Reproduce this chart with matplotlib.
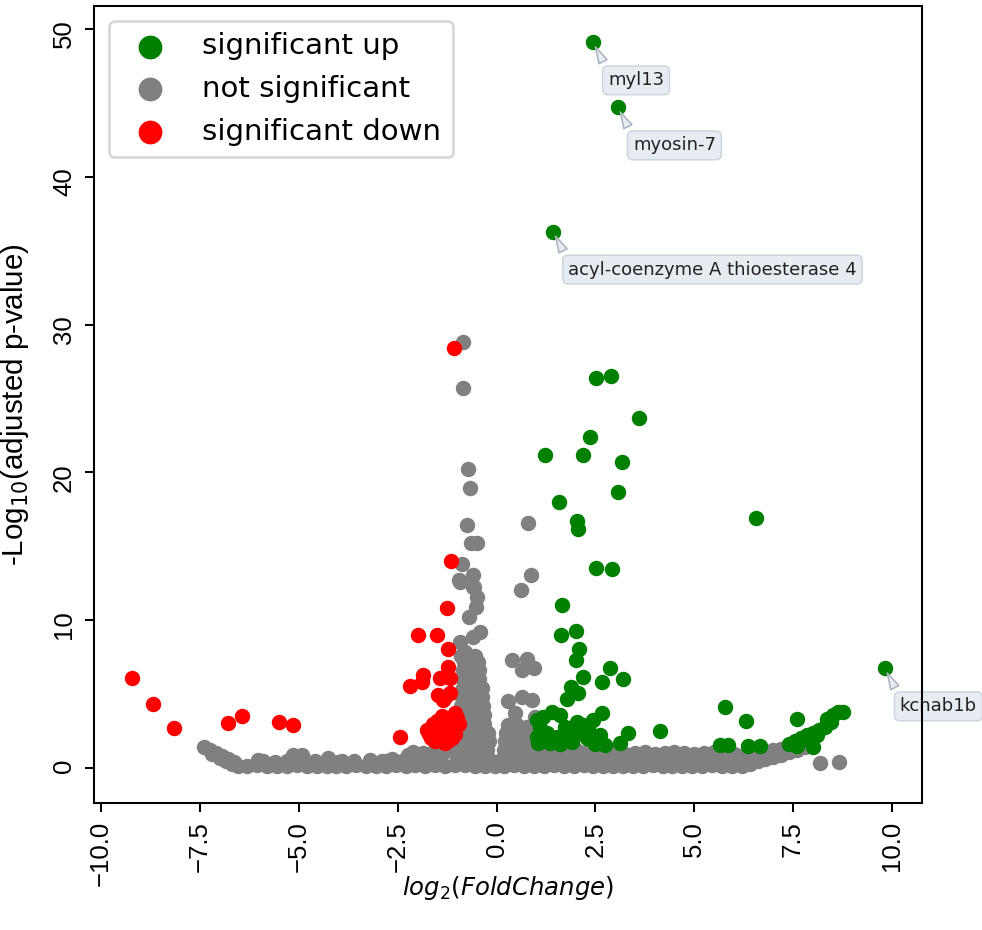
import matplotlib
matplotlib.use("Agg")
import matplotlib.pyplot as plt
import numpy as np

# log2 fold change / -log10 adjusted p-value, grouped by call
up_x = [2.44, 3.07, 1.43, 2.51, 2.90, 3.60, 2.36, 1.23, 2.19, 3.18, 3.08, 1.58,
        2.04, 2.07, 6.56, 2.51, 2.93, 1.65, 1.63, 2.00, 2.09, 2.01, 2.87, 2.19,
        2.66, 3.19, 1.88, 2.07, 1.79, 9.82, 5.78, 6.31, 7.59, 8.64, 8.77, 8.52,
        2.66, 2.45, 2.19, 2.03, 1.73, 1.61, 1.40, 1.18, 1.02, 1.10, 1.27, 1.52,
        1.77, 2.03, 2.32, 2.62, 3.33, 3.12, 1.02, 1.44, 1.18, 2.28, 4.13, 5.66,
        5.86, 6.37, 6.66, 8.01, 7.40, 7.55, 7.70, 7.85, 8.00, 8.15, 8.30, 8.45,
        7.90, 8.10, 7.60, 8.35, 1.35, 1.60, 1.90, 2.50, 2.75, 1.05, 1.85]
up_y = [49.1, 44.7, 36.3, 26.4, 26.5, 23.7, 22.4, 21.2, 21.2, 20.7, 18.65, 18.0,
        16.7, 16.15, 16.9, 13.5, 13.45, 11.0, 9.0, 9.27, 8.03, 7.3, 6.74, 6.18,
        5.84, 6.0, 5.5, 5.05, 4.7, 6.74, 4.1, 3.2, 3.3, 3.8, 3.8, 3.58,
        3.70, 3.25, 2.91, 3.13, 2.80, 3.59, 3.81, 3.47, 3.25, 2.69, 2.35, 2.12,
        2.35, 2.46, 2.80, 2.23, 2.35, 1.67, 2.12, 1.89, 1.89, 2.01, 2.5, 1.55,
        1.55, 1.5, 1.5, 1.44, 1.6, 1.8, 2.0, 2.2, 2.4, 2.6, 2.8, 3.1,
        1.9, 2.2, 1.5, 3.3, 1.7, 1.6, 1.75, 1.65, 1.55, 1.7, 2.0]

down_x = [-9.22, -8.68, -8.15, -6.80, -6.44, -5.49, -5.14, -2.44, -1.07, -1.15,
          -1.26, -1.99, -1.51, -1.23, -2.20, -1.89, -1.85, -1.43, -1.22, -1.18,
          -1.47, -1.18, -1.35, -1.30, -1.05, -1.70, -1.60, -1.50, -1.45, -1.40,
          -1.35, -1.30, -1.25, -1.20, -1.15, -1.10, -1.05, -1.55, -1.65, -1.00,
          -1.30, -1.50, -1.20, -1.42, -1.60, -1.38, -1.12, -0.95, -1.75]
down_y = [6.11, 4.31, 2.73, 3.02, 3.54, 3.09, 2.91, 2.10, 28.4, 14.0,
          10.8, 9.0, 9.0, 8.03, 5.57, 5.84, 6.29, 6.07, 6.85, 6.07,
          4.94, 5.05, 4.6, 4.8, 3.70, 2.3, 2.6, 2.0, 2.8, 2.4,
          2.1, 3.0, 2.5, 1.9, 2.7, 3.2, 2.3, 1.8, 2.0, 3.4,
          1.7, 3.2, 3.3, 2.25, 3.0, 3.5, 2.0, 3.0, 2.6]

# bulk of non-significant genes along the baseline
band_x = [-7.41, -7.25, -7.10, -6.95, -6.80, -6.65, -7.20, -7.00, -6.85, -6.70,
          -6.55, -6.30, -6.05, -5.80, -5.55, -5.30, -5.05, -4.80, -4.55, -4.30,
          -4.05, -3.80, -3.55, -3.30, -3.05, -2.80, -2.55, -2.30, -2.05, -1.80,
          -1.55, -1.30, -1.05, -0.80, -0.55, -0.30, -0.05, 0.20, 0.45, 0.70,
          0.95, 1.20, 1.45, 1.70, 1.95, 2.20, 2.45, 2.70, 2.95, 3.20,
          3.45, 3.70, 3.95, 4.20, 4.45, 4.70, 4.95, 5.20, 5.45, 5.70,
          5.95, 6.20,
          -6.02, -5.90, -5.14, -4.93, -5.30, -4.25, -3.60, -3.20, -2.80, -2.19,
          -2.10, -2.40, -5.60, -4.60, -4.00, -3.90, -2.65, -1.95, -1.70, -1.45,
          -2.90, -2.25, -1.85, -1.60, -1.35,
          0.35, 0.60, 0.85, 1.10, 1.35, 1.60, 1.85, 2.10, 2.35, 2.60,
          2.85, 3.10, 3.35, 3.60, 3.85, 4.10, 4.35, 4.60, 4.85, 5.10,
          5.35, 5.60, 5.85, 6.10,
          0.25, 0.50, 0.75, 1.00, 1.25, 1.50, 1.75, 2.00, 2.25, 2.50,
          2.75, 3.00, 3.25, 3.50, 3.75, 4.00, 4.25, 4.50, 4.75, 5.00,
          5.25, 5.50, 5.75, 6.00, 6.25,
          6.40, 6.60, 6.80, 7.00, 7.20, 7.40, 7.60, 7.80, 7.95,
          6.40, 6.60, 6.80, 7.00, 7.20, 7.40, 7.60, 7.80, 8.18, 8.67]
band_y = [1.44, 1.20, 1.00, 0.80, 0.60, 0.40, 0.95, 0.70, 0.45, 0.25,
          0.15, 0.10, 0.20, 0.12, 0.15, 0.10, 0.18, 0.12, 0.15, 0.10,
          0.16, 0.12, 0.18, 0.10, 0.15, 0.12, 0.18, 0.15, 0.20, 0.15,
          0.18, 0.15, 0.20, 0.18, 0.15, 0.12, 0.10, 0.15, 0.18, 0.15,
          0.12, 0.15, 0.18, 0.12, 0.15, 0.18, 0.12, 0.15, 0.10, 0.15,
          0.12, 0.15, 0.18, 0.12, 0.15, 0.10, 0.15, 0.12, 0.18, 0.15,
          0.12, 0.10,
          0.55, 0.50, 0.85, 0.85, 0.50, 0.70, 0.45, 0.55, 0.50, 0.75,
          1.05, 0.50, 0.40, 0.45, 0.40, 0.50, 0.60, 0.60, 0.70, 0.80,
          0.45, 0.90, 1.00, 1.10, 1.00,
          0.55, 0.60, 0.55, 0.60, 0.55, 0.60, 0.55, 0.60, 0.55, 0.60,
          0.55, 0.60, 0.55, 0.60, 0.55, 0.60, 0.55, 0.60, 0.55, 0.60,
          0.55, 0.60, 0.55, 0.50,
          1.00, 1.10, 1.20, 1.25, 1.20, 1.10, 1.15, 1.20, 1.10, 1.05,
          1.00, 1.05, 0.95, 1.00, 1.05, 0.95, 1.00, 1.05, 1.00, 0.95,
          1.00, 1.05, 1.00, 0.95, 0.90,
          0.30, 0.45, 0.60, 0.75, 0.90, 1.05, 1.20, 1.40, 1.55,
          0.90, 1.00, 1.10, 1.20, 1.30, 1.40, 1.55, 1.70, 0.36, 0.40]

# the two columns just either side of zero plus their stragglers
spike_x = [-1.00, -0.80, -0.60, -0.40, -0.20, -1.00, -0.80, -0.60, -0.40, -0.25,
           -0.95, -0.75, -0.55, -0.35, -0.20, -0.95, -0.75, -0.55, -0.35, -0.22,
           -0.92, -0.72, -0.52, -0.32, -0.90, -0.70, -0.50, -0.32,
           -0.90, -0.70, -0.50, -0.35, -0.88, -0.68, -0.48, -0.36,
           -0.86, -0.66, -0.46, -0.38, -0.85, -0.65, -0.45, -0.85, -0.65, -0.45,
           -0.82, -0.62, -0.46, -0.90, -0.55,
           -0.80, -0.92, -0.59, -0.42, -0.69, -0.52, -0.50, -0.59, -0.92, -0.57,
           -0.95, -0.59, -0.88, -0.65, -0.49, -0.74, -0.67, -0.71, -0.84, -0.86,
           0.15, 0.35, 0.55, 0.75, 0.20, 0.40, 0.60, 0.80, 0.22, 0.42, 0.62, 0.82,
           0.25, 0.45, 0.65, 0.30, 0.51, 0.76, 0.97, 0.26,
           0.47, 0.30, 0.64, 0.89, 0.64, 0.95, 0.38, 0.76, 0.62, 0.86, 0.80]
spike_y = [0.6, 0.6, 0.6, 0.6, 0.6, 1.2, 1.2, 1.2, 1.2, 1.2,
           1.8, 1.8, 1.8, 1.8, 1.8, 2.4, 2.4, 2.4, 2.4, 2.4,
           3.0, 3.0, 3.0, 3.0, 3.6, 3.6, 3.6, 3.6,
           4.2, 4.2, 4.2, 4.2, 4.8, 4.8, 4.8, 4.8,
           5.4, 5.4, 5.4, 5.4, 6.0, 6.0, 6.0, 6.6, 6.6, 6.6,
           7.2, 7.2, 7.2, 7.6, 7.6,
           7.87, 8.55, 8.88, 9.22, 10.2, 10.9, 11.59, 12.27, 12.6, 12.23,
           12.72, 13.06, 13.8, 15.2, 15.2, 16.44, 18.97, 20.2, 25.7, 28.8,
           0.6, 0.6, 0.6, 0.6, 1.2, 1.2, 1.2, 1.2, 1.8, 1.8, 1.8, 1.8,
           2.4, 2.4, 2.4, 2.91, 2.91, 2.80, 3.47, 2.12,
           3.70, 4.55, 4.82, 4.6, 6.63, 6.74, 7.31, 7.35, 12.06, 13.06, 16.6]

labels = ["myl13", "myosin-7", "acyl-coenzyme A thioesterase 4", "kchab1b"]
label_x = [2.44, 3.07, 1.43, 9.82]
label_y = [49.1, 44.7, 36.3, 6.74]

fig = plt.figure(figsize=(982 / 185, 930 / 185), dpi=185)
ax = fig.add_axes([94 / 982, 1 - 803 / 930, 828 / 982, 797 / 930])

ns_x = band_x + spike_x
ns_y = band_y + spike_y
h_ns = ax.scatter(ns_x, ns_y, s=25, c="grey", label="not significant")
h_up = ax.scatter(up_x, up_y, s=25, c="green", label="significant up")
h_dn = ax.scatter(down_x, down_y, s=25, c="red", label="significant down")

for name, lx, ly in zip(labels, label_x, label_y):
    ax.annotate(name, xy=(lx, ly), xytext=(15, -38), textcoords="offset pixels",
                ha="left", va="center", fontsize=7, family="DejaVu Sans",
                color="#222222", zorder=2,
                bbox=dict(boxstyle="round,pad=0.3", fc="#e6ecf2", ec="#cdd6df", lw=0.6),
                arrowprops=dict(arrowstyle="wedge,tail_width=0.5", fc="#e6ecf2",
                                ec="#a9b3bd", lw=0.6, relpos=(0, 1)))

ax.set_xlim(-10.18, 10.76)
ax.set_ylim(-2.37, 51.56)
ax.set_xticks(np.arange(-10, 10.1, 2.5))
ax.set_yticks([0, 10, 20, 30, 40, 50])
for t in ax.get_xticklabels() + ax.get_yticklabels():
    t.set_fontfamily("Liberation Sans")
    t.set_fontsize(10)
    t.set_rotation(90)

ax.set_xlabel(r"$log_2(FoldChange)$", fontsize=9.5)
ax.xaxis.set_label_coords(0.5, -(874 - 803) / 797)
ax.set_ylabel(r"-Log$_{10}$(adjusted p-value)", fontsize=11.5, family="Liberation Sans")
ax.yaxis.set_label_coords(-(94 - 31) / 828, 0.5)

ax.legend(handles=[h_up, h_ns, h_dn], loc="upper left", markerscale=1.65,
          labelspacing=0.5, prop={"family": "DejaVu Sans", "size": 11.4})

fig.savefig("out.png", dpi=185)
